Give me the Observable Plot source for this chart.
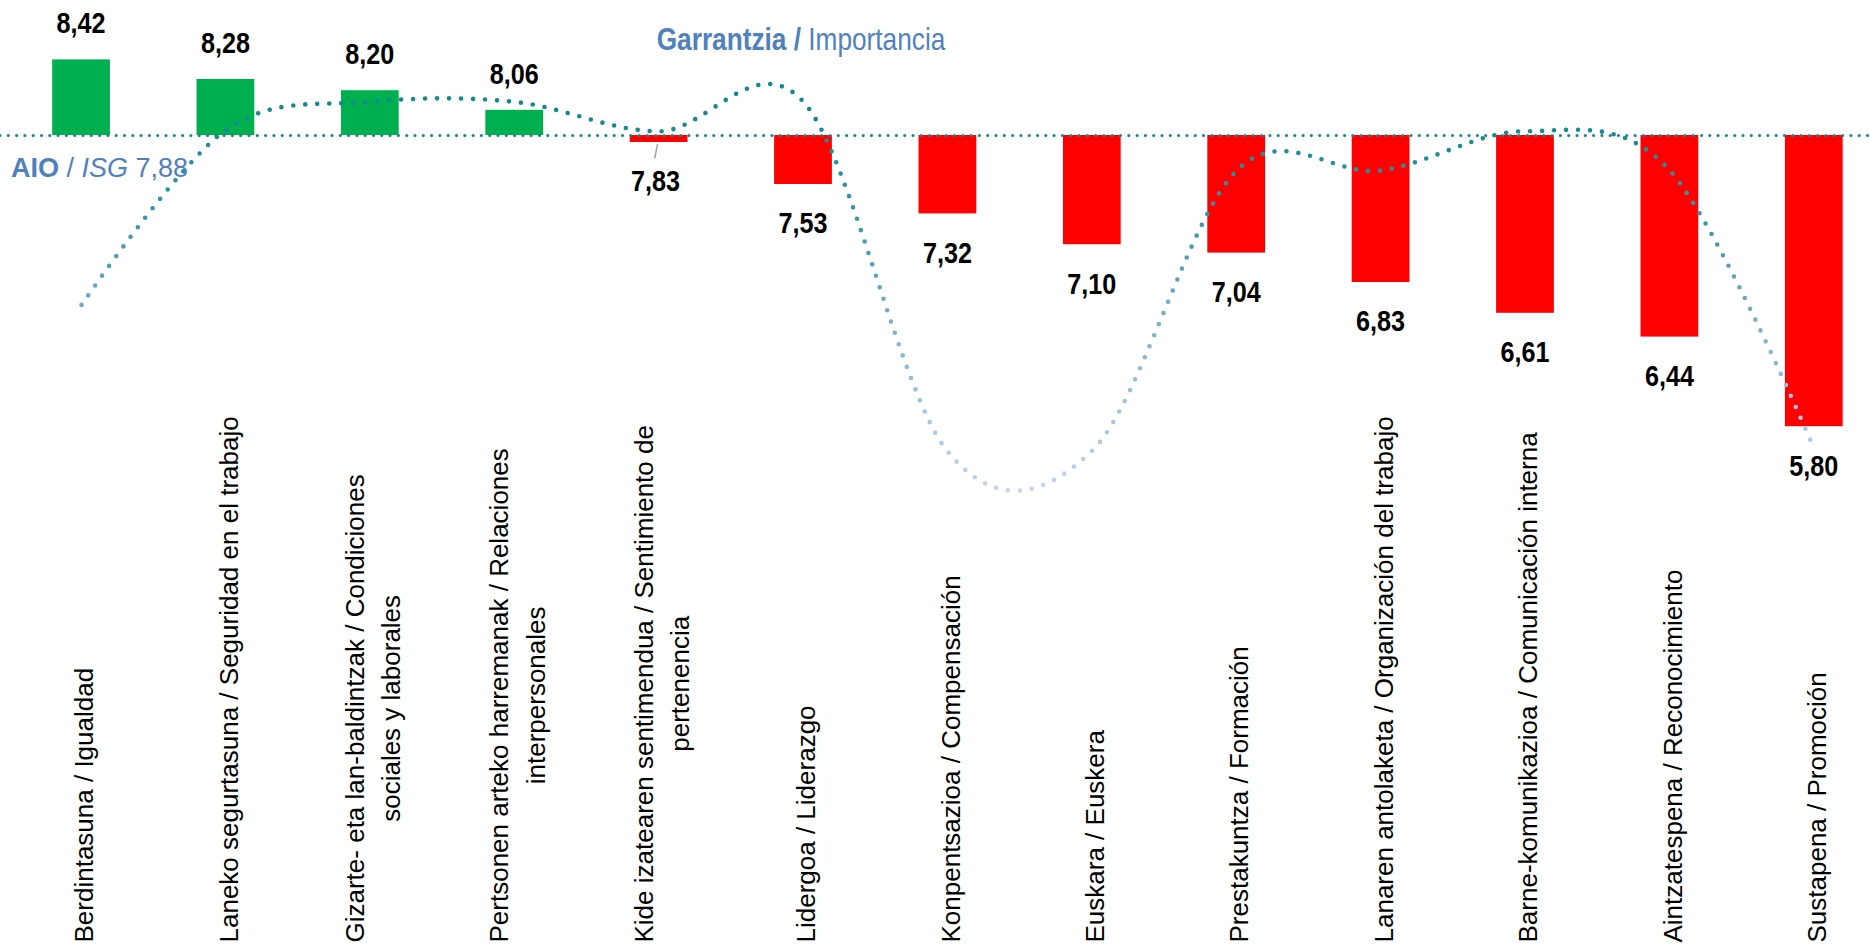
<!DOCTYPE html>
<html><head><meta charset="utf-8">
<script src="https://cdn.jsdelivr.net/npm/d3@7"></script>
<script src="https://cdn.jsdelivr.net/npm/@observablehq/plot@0.6"></script>
<style>
html,body{margin:0;padding:0;background:#fff;}
#chart{width:1870px;height:945px;overflow:hidden;}
</style></head><body><div id="chart"></div>
<script>
// ---- data ----
const categories = [
  "Berdintasuna / Igualdad",
  "Laneko segurtasuna / Seguridad en el trabajo",
  "Gizarte- eta lan-baldintzak / Condiciones sociales y laborales",
  "Pertsonen arteko harremanak / Relaciones interpersonales",
  "Kide izatearen sentimendua / Sentimiento de pertenencia",
  "Lidergoa / Liderazgo",
  "Konpentsazioa / Compensación",
  "Euskara / Euskera",
  "Prestakuntza / Formación",
  "Lanaren antolaketa / Organización del trabajo",
  "Barne-komunikazioa / Comunicación interna",
  "Aintzatespena / Reconocimiento",
  "Sustapena / Promoción"
];
const wrappedLabels = [
  "Berdintasuna / Igualdad",
  "Laneko segurtasuna / Seguridad en el trabajo",
  "Gizarte- eta lan-baldintzak / Condiciones\nsociales y laborales",
  "Pertsonen arteko harremanak / Relaciones\ninterpersonales",
  "Kide izatearen sentimendua / Sentimiento de\npertenencia",
  "Lidergoa / Liderazgo",
  "Konpentsazioa / Compensación",
  "Euskara / Euskera",
  "Prestakuntza / Formación",
  "Lanaren antolaketa / Organización del trabajo",
  "Barne-komunikazioa / Comunicación interna",
  "Aintzatespena / Reconocimiento",
  "Sustapena / Promoción"
];
const garantia = [8.42, 8.28, 8.20, 8.06, 7.83, 7.53, 7.32, 7.10, 7.04, 6.83, 6.61, 6.44, 5.80];
const importancia = [6.67, 7.92, 8.12, 8.12, 7.91, 8.12, 5.62, 5.63, 7.63, 7.63, 7.91, 7.63, 5.64];
const average = 7.88;
const titleBold = "Garrantzia /";
const titleRegular = " Importancia";

// ---- styles ----
const fmt = v => v.toFixed(2).replace(".", ",");
const regular = "'Liberation Sans', Arial, sans-serif";
const blue = "#4F81BD";
const teal = "#17878F";

const rows = categories.map((c, i) => ({
  c, g: garantia[i], imp: importancia[i], lab: fmt(garantia[i]), wrap: wrappedLabels[i]
}));

// measure category label lines
const ctx = document.createElement("canvas").getContext("2d");
ctx.font = `26px ${regular}`;
const maxLineWidth = s => d3.max(s.split("\n"), l => ctx.measureText(l).width);

const bandCenter = (scales, c) => {
  const xs = scales.x;
  const bw = typeof xs.bandwidth === "function" ? xs.bandwidth() : (xs.bandwidth || 0);
  return xs(c) + bw / 2;
};

const gradientDefs = (index, scales) => {
  const defs = d3.create("svg:defs");
  const g = defs.append("linearGradient").attr("id", "impGrad")
    .attr("gradientUnits", "userSpaceOnUse")
    .attr("x1", 0).attr("x2", 0)
    .attr("y1", scales.y(8.0)).attr("y2", scales.y(5.35));
  g.append("stop").attr("offset", 0).attr("stop-color", "#138891");
  g.append("stop").attr("offset", 0.3).attr("stop-color", "#3F98AB");
  g.append("stop").attr("offset", 0.6).attr("stop-color", "#86B5D1");
  g.append("stop").attr("offset", 1).attr("stop-color", "#C3D4EC");
  return defs.node();
};

const leader = (index, scales) => {
  const d = rows[4];
  const cx = bandCenter(scales, d.c);
  const yb = scales.y(d.g);
  return d3.create("svg:line")
    .attr("x1", cx - 1).attr("y1", yb + 2)
    .attr("x2", cx - 4).attr("y2", yb + 16.5)
    .attr("stroke", "#A6A6A6").attr("stroke-width", 1.5).node();
};

const valueLabels = (index, scales) => {
  const g = d3.create("svg:g")
    .attr("font-family", regular).attr("font-weight", "bold")
    .attr("font-size", 30).attr("fill", "#000").attr("text-anchor", "middle");
  rows.forEach((d, i) => {
    const cx = bandCenter(scales, d.c) - (i === 4 ? 3 : 0);
    const y = d.g >= average ? scales.y(d.g) - 26 : scales.y(d.g) + 28 + 0.716 * 30;
    g.append("text").attr("transform", `translate(${cx},${y}) scale(0.84,1)`).text(d.lab);
  });
  return g.node();
};

const aioLabel = (index, scales, values, dims) => {
  const t = d3.create("svg:text")
    .attr("x", dims.marginLeft + 11).attr("y", scales.y(average) + 42)
    .attr("text-anchor", "start")
    .attr("fill", blue).attr("font-family", regular).attr("font-size", 27);
  t.append("tspan").attr("font-weight", "bold").text("AIO");
  t.append("tspan").text(" / ");
  t.append("tspan").attr("font-style", "italic").text("ISG");
  t.append("tspan").text(" " + fmt(average));
  return t.node();
};

const title = (index, scales, values, dims) => {
  const t = d3.create("svg:text")
    .attr("transform", `translate(${bandCenter(scales, rows[5].c) - 2},${dims.marginTop + 50}) scale(0.82,1)`)
    .attr("text-anchor", "middle")
    .attr("fill", blue).attr("font-family", regular).attr("font-size", 32);
  t.append("tspan").attr("font-weight", "bold").text(titleBold);
  t.append("tspan").text(titleRegular);
  return t.node();
};

const categoryMarks = rows.map(d => Plot.text([d], {
  x: "c", text: "wrap", frameAnchor: "bottom", rotate: -90,
  textAnchor: "middle", lineAnchor: "middle", lineHeight: 1.41,
  dy: -(3 + maxLineWidth(d.wrap) / 2),
  fontSize: 26, fontFamily: regular, fill: "#000"
}));

const chart = Plot.plot({
  width: 1870, height: 945,
  marginTop: 0, marginBottom: 0, marginLeft: 0, marginRight: 0,
  style: {background: "#fff", overflow: "visible"},
  x: {type: "band", domain: categories, range: [-34.5, 1929.3], padding: 0.6, round: false, axis: null},
  y: {domain: [5.5, 8.8], range: [468.2, 6.2], axis: null},
  marks: [
    gradientDefs,
    Plot.barY(rows, {x: "c", y1: average, y2: "g", fill: d => d.g >= average ? "#00B050" : "#FF0000"}),
    Plot.ruleY([average], {stroke: teal, strokeWidth: 3.2, strokeDasharray: "0 8.3", strokeLinecap: "round"}),
    Plot.line(rows, {x: "c", y: "imp", curve: "cardinal", tension: 0, stroke: "url(#impGrad)", strokeWidth: 4.6, strokeDasharray: "0 12", strokeLinecap: "round"}),
    leader,
    valueLabels,
    aioLabel,
    title,
    ...categoryMarks
  ]
});
document.getElementById("chart").append(chart);
</script>
</body></html>
